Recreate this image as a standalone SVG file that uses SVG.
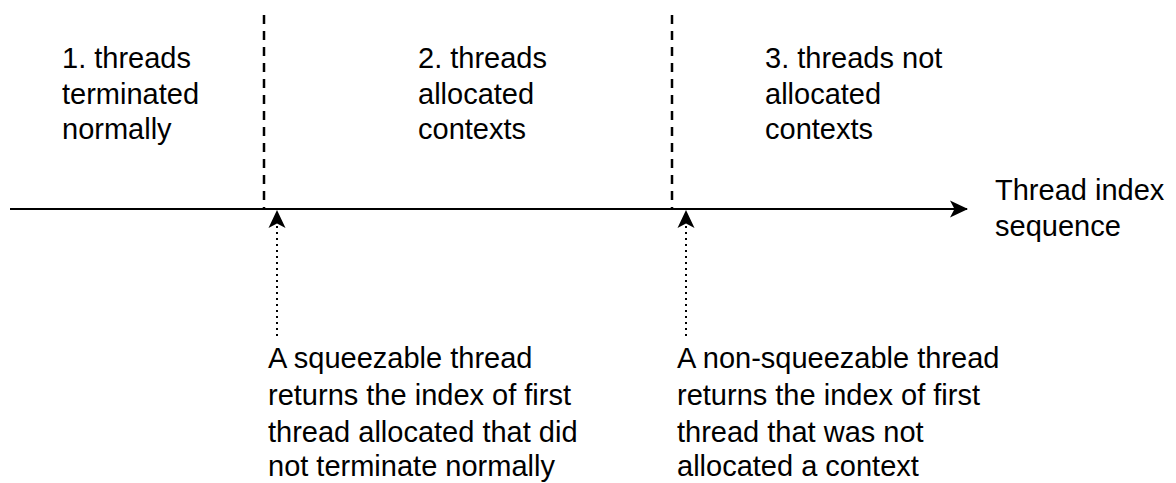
<svg xmlns="http://www.w3.org/2000/svg" width="1176" height="483" viewBox="0 0 1176 483">
<style>
text{font-family:"Liberation Sans",Arial,sans-serif;font-size:29px;fill:#000}
.axis{stroke:#000;stroke-width:2;fill:none}
.dash{stroke:#000;stroke-width:2.5;stroke-dasharray:9 7;fill:none}
.dot{stroke:#000;stroke-width:2;stroke-dasharray:2 4;fill:none}
</style>
<defs>
<marker id="ah" viewBox="0 0 20 20" refX="18" refY="10" markerWidth="20" markerHeight="20" markerUnits="userSpaceOnUse" orient="auto">
<path d="M1,1.5 L19,10 L1,18.5 L5.5,10 Z" fill="#000"/>
</marker>
</defs>
<rect width="1176" height="483" fill="#fff"/>
<g id="connectors">
<line class="axis" x1="10" y1="209" x2="967" y2="209" marker-end="url(#ah)"/>
<line class="dash" x1="264" y1="15" x2="264" y2="209"/>
<line class="dash" x1="672" y1="15" x2="672" y2="209"/>
<line class="dot" x1="277" y1="336" x2="277" y2="211" marker-end="url(#ah)"/>
<line class="dot" x1="686" y1="336" x2="686" y2="211" marker-end="url(#ah)"/>
</g>
<g id="region1"><text x="62" y="68">1. threads</text><text x="62" y="104">terminated</text><text x="62" y="139">normally</text></g>
<g id="region2"><text x="418" y="68">2. threads</text><text x="418" y="104">allocated</text><text x="418" y="139">contexts</text></g>
<g id="region3"><text x="765" y="68">3. threads not</text><text x="765" y="104">allocated</text><text x="765" y="139">contexts</text></g>
<g id="axislabel"><text x="995" y="200">Thread index</text><text x="995" y="236">sequence</text></g>
<g id="note1"><text x="268" y="368">A squeezable thread</text><text x="268" y="405">returns the index of first</text><text x="268" y="442">thread allocated that did</text><text x="268" y="476">not terminate normally</text></g>
<g id="note2"><text x="677" y="368">A non-squeezable thread</text><text x="677" y="405">returns the index of first</text><text x="677" y="442">thread that was not</text><text x="677" y="476">allocated a context</text></g>
</svg>
